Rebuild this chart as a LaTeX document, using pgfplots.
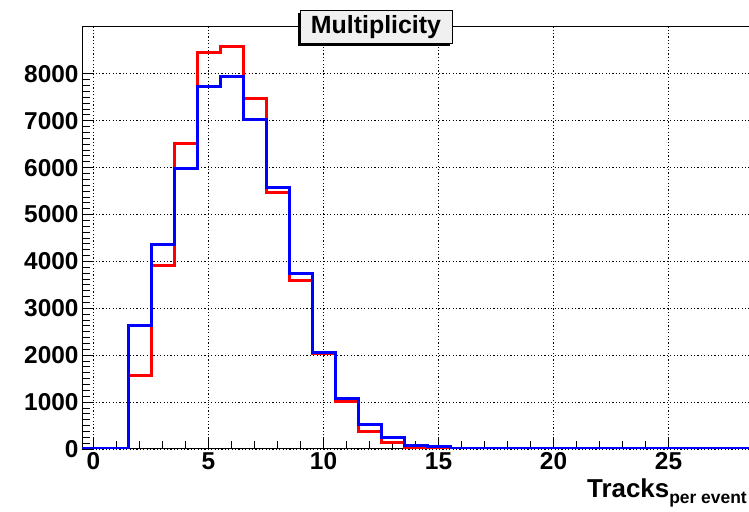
\documentclass[border=0pt]{standalone}
\usepackage{fontspec}
\setmainfont{Liberation Sans}
\usepackage{pgfplots}
\pgfplotsset{compat=1.18}
\definecolor{rootred}{RGB}{255,0,0}
\definecolor{rootblue}{RGB}{0,0,255}

\begin{document}
\begin{tikzpicture}[x=1bp,y=1bp]
\useasboundingbox (0,0) rectangle (749,512);
\begin{axis}[
  at={(82bp,63bp)}, anchor=south west,
  scale only axis, width=667bp, height=422bp,
  xmin=-0.5, xmax=28.5, ymin=0, ymax=9000,
  axis x line*=box, axis y line*=left,
  xtick pos=bottom, ytick pos=left,
  tick align=inside,
  axis line style={line width=1bp, black},
  xtick={0,5,...,25}, ytick={0,1000,...,8000},
  minor x tick num=4, minor y tick num=7,
  major tick length=12bp, minor tick length=8bp,
  every tick/.style={black, line width=0.9bp},
  scaled y ticks=false,
  /pgf/number format/1000 sep={},
  /pgf/number format/assume math mode=true,
  tick label style={font=\fontsize{24.5}{24.5}\selectfont\bfseries},
  grid=major,
  major grid style={black, line width=0.8bp, dash pattern=on 1.2bp off 2.2bp},
]
\addplot[const plot, rootred, line width=3bp] coordinates {
  (-0.5,0) (0.5,0) (1.5,1560) (2.5,3920) (3.5,6520) (4.5,8450) (5.5,8580)
  (6.5,7470) (7.5,5460) (8.5,3590) (9.5,2040) (10.5,1010) (11.5,370)
  (12.5,140) (13.5,30) (14.5,0) (28.5,0)
};
\addplot[const plot, rootblue, line width=3bp] coordinates {
  (-0.5,0) (0.5,0) (1.5,2640) (2.5,4360) (3.5,5985) (4.5,7740) (5.5,7950)
  (6.5,7035) (7.5,5575) (8.5,3750) (9.5,2060) (10.5,1075) (11.5,515)
  (12.5,240) (13.5,85) (14.5,45) (15.5,0) (28.5,0)
};
\end{axis}
% title box with ROOT-style shadow
\fill[black] (298,466) rectangle (450,499);
\node[draw=black, line width=1bp, fill=black!6, minimum width=152bp,
      minimum height=33bp, inner sep=0pt,
      font=\fontsize{25}{25}\selectfont\bfseries] at (376,485) {Multiplicity};
% x-axis label
\node[anchor=base east, inner sep=0pt, font=\fontsize{26}{26}\selectfont\bfseries]
  at (747,14) {Tracks\raisebox{-6bp}{\fontsize{17.5}{17.5}\selectfont per event}};
\end{tikzpicture}
\end{document}
